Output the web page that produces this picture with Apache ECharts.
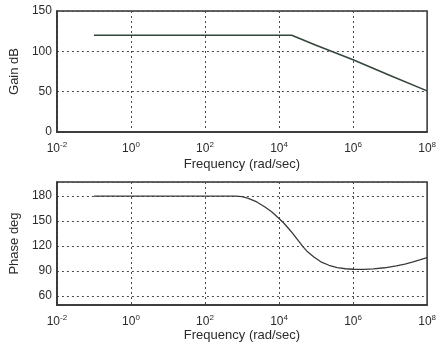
<!DOCTYPE html>
<html>
<head>
<meta charset="utf-8">
<script src="https://cdn.jsdelivr.net/npm/echarts@6/dist/echarts.min.js"></script>
<style>
  html, body { margin: 0; padding: 0; background: #ffffff; }
  #chart { width: 439px; height: 346px; }
</style>
</head>
<body>
<div id="chart"></div>
<script>
// Bode diagram: magnitude (dB) and phase (deg) against frequency (rad/sec)

// Magnitude response
const gainFreq = [0.1, 1, 10, 100, 1000, 1e4, 2.2e4, 1e5, 1e6, 1e7, 1e8];
const gainDb   = [120, 120, 120, 120, 120, 120, 120, 107.5, 89.6, 70, 51];

// Phase response
const phaseFreq = [0.1, 1, 10, 100, 676, 1000, 1479, 2512, 4169, 6310, 1e4,
                   13183, 17378, 23988, 32359, 43652, 58884, 89125, 134896,
                   223872, 371535, 630957, 1e6, 1995262, 3548134, 7079458,
                   14791084, 25118864, 41686938, 63095734, 1e8];
const phaseDeg  = [180, 180, 180, 180, 180, 179.3, 177.4, 173, 167, 161.2, 153,
                   148, 142, 134.5, 127, 119.5, 113, 106.5, 101,
                   96.8, 94, 92.6, 92, 91.9, 92.4, 93.8,
                   96, 98.3, 101, 103.3, 106];

// Axis ranges and labels
const freqRange  = [1e-2, 1e8];
const gainRange  = [0, 150];
const phaseRange = [49, 197];
const freqTitle  = 'Frequency (rad/sec)';
const gainTitle  = 'Gain dB';
const phaseTitle = 'Phase deg';

const ink = '#2b2b2b';
const gridDash = { color: '#4a4a4a', width: 1, type: [2, 3] };
const font = 'Liberation Sans, Arial, sans-serif';

function powerLabel(v) {
  const e = Math.round(Math.log10(v));
  return '10{sup|' + e + '}';
}

function freqAxis(gridIndex, gap) {
  return {
    type: 'log',
    logBase: 10,
    gridIndex: gridIndex,
    min: freqRange[0],
    max: freqRange[1],
    interval: 2,
    name: freqTitle,
    nameLocation: 'middle',
    nameGap: gap,
    nameTextStyle: { color: ink, fontSize: 13, fontFamily: font },
    axisLine: { show: true, onZero: false, lineStyle: { color: '#333', width: 1.5 } },
    axisTick: { show: false },
    minorTick: { show: false },
    axisLabel: {
      color: ink, fontSize: 12, fontFamily: font, margin: 9, interval: 0,
      formatter: powerLabel,
      rich: { sup: { fontSize: 8, color: ink, fontFamily: font, padding: [0, 0, 8, 0] } }
    },
    splitLine: { show: true, interval: 0, lineStyle: gridDash }
  };
}

function valueAxis(gridIndex, range, title, extra) {
  return Object.assign({
    type: 'value',
    gridIndex: gridIndex,
    min: range[0],
    max: range[1],
    name: title,
    nameLocation: 'middle',
    nameGap: 31,
    nameRotate: 90,
    nameTextStyle: { color: ink, fontSize: 13, fontFamily: font },
    axisLine: { show: true, lineStyle: { color: '#333', width: 1.5 } },
    axisTick: { show: false },
    axisLabel: { color: ink, fontSize: 12, fontFamily: font, margin: 5 },
    splitLine: { show: true, lineStyle: gridDash }
  }, extra || {});
}

const chart = echarts.init(document.getElementById('chart'), null, { renderer: 'canvas' });

chart.setOption({
  backgroundColor: '#ffffff',
  animation: false,
  grid: [
    { left: 53, right: 8, top: 11, height: 121, show: true, borderColor: '#333', borderWidth: 1.5, backgroundColor: 'transparent' },
    { left: 53, right: 8, top: 182, height: 123, show: true, borderColor: '#333', borderWidth: 1.5, backgroundColor: 'transparent' }
  ],
  xAxis: [freqAxis(0, 26), freqAxis(1, 24)],
  yAxis: [
    valueAxis(0, gainRange, gainTitle, { interval: 50 }),
    valueAxis(1, phaseRange, phaseTitle, {
      splitNumber: 5,
      axisLabel: {
        color: ink, fontSize: 12, fontFamily: font, margin: 5,
        formatter: function (v) { return v % 30 === 0 ? String(v) : ''; }
      }
    })
  ],
  series: [
    {
      type: 'line', xAxisIndex: 0, yAxisIndex: 0,
      data: gainFreq.map((f, i) => [f, gainDb[i]]),
      showSymbol: false, clip: false,
      lineStyle: { color: '#34453a', width: 1.5 }
    },
    {
      type: 'line', xAxisIndex: 1, yAxisIndex: 1,
      data: phaseFreq.map((f, i) => [f, phaseDeg[i]]),
      showSymbol: false, clip: false,
      lineStyle: { color: '#3a3a3a', width: 1.3 }
    }
  ]
});
</script>
</body>
</html>
